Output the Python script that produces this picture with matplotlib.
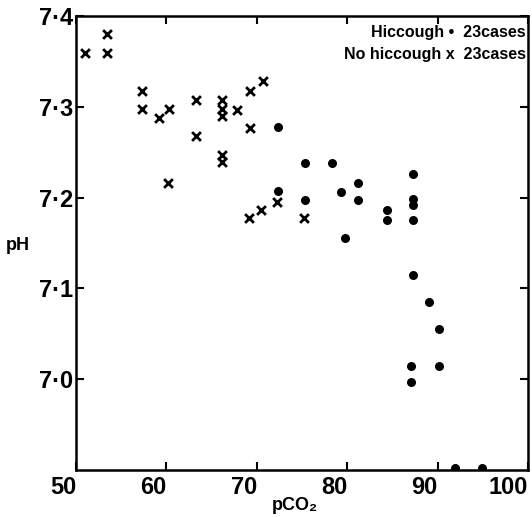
import matplotlib
matplotlib.use("Agg")
import matplotlib.pyplot as plt
from matplotlib.ticker import FuncFormatter

plt.rcParams['font.family'] = ['Liberation Sans', 'DejaVu Sans']

# pCO2 / pH readings, hiccough group (dots)
hic_pco2 = [72.3, 72.3, 75.3, 75.3, 78.3, 79.3, 79.8, 81.2, 81.2, 84.4, 84.4,
            87.3, 87.3, 87.3, 87.3, 87.25, 89.0, 90.15, 87.1, 90.15, 87.1, 91.9, 94.9]
hic_ph = [7.278, 7.207, 7.238, 7.197, 7.238, 7.206, 7.156, 7.216, 7.197, 7.186, 7.175,
          7.226, 7.198, 7.192, 7.175, 7.115, 7.085, 7.055, 7.015, 7.015, 6.997, 6.902, 6.902]

# no hiccough group (crosses)
no_pco2 = [51.0, 53.4, 53.4, 57.3, 57.3, 59.2, 60.3, 60.2, 63.3, 63.3,
           66.2, 66.2, 66.2, 66.2, 66.2, 67.8, 69.25, 69.25, 70.7, 69.1, 70.5, 72.2, 75.25]
no_ph = [7.359, 7.380, 7.359, 7.317, 7.298, 7.288, 7.298, 7.216, 7.307, 7.268,
         7.307, 7.298, 7.290, 7.247, 7.239, 7.297, 7.317, 7.277, 7.328, 7.178, 7.186, 7.195, 7.177]

x_ticks = [50, 60, 70, 80, 90, 100]
y_ticks = [7.0, 7.1, 7.2, 7.3, 7.4]

fig = plt.figure(figsize=(5.32, 5.17), dpi=100)
ax = fig.add_axes([76/532, 1 - 470/517, 452/532, 454/517])

ax.scatter(hic_pco2, hic_ph, s=30, marker='o', color='black', zorder=3)
ax.scatter(no_pco2, no_ph, s=40, marker='x', color='black', linewidths=2.0, zorder=3)

ax.set_xlim(50, 100)
ax.set_ylim(6.9, 7.4)
ax.set_xticks(x_ticks)
ax.set_yticks(y_ticks)
ax.yaxis.set_major_formatter(FuncFormatter(lambda v, p: f"{v:.1f}".replace(".", "\u00b7")))

for s in ax.spines.values():
    s.set_linewidth(1.8)

ax.tick_params(direction='in', length=6, width=1.5, top=True, right=True,
               labelsize=17, pad=2)
ax.tick_params(axis='x', pad=4)
for lab in ax.get_xticklabels():
    lab.set_fontweight('bold')
    lab.set_horizontalalignment('right')
for lab in ax.get_yticklabels():
    lab.set_fontweight('bold')

fig.text(18/532, 1 - 245/517, "pH", fontsize=13, fontweight='bold', ha='center', va='center')
fig.text(295/532, 1 - 505/517, "pCO\u2082", fontsize=13, fontweight='bold', ha='center', va='center')

ax.text(0.995, 0.98, "Hiccough \u2022  23cases", transform=ax.transAxes, ha='right', va='top',
        fontsize=11.5, fontweight='bold')
ax.text(0.995, 0.932, "No hiccough x  23cases", transform=ax.transAxes, ha='right', va='top',
        fontsize=11.5, fontweight='bold')

fig.savefig("out.png", dpi=100)
